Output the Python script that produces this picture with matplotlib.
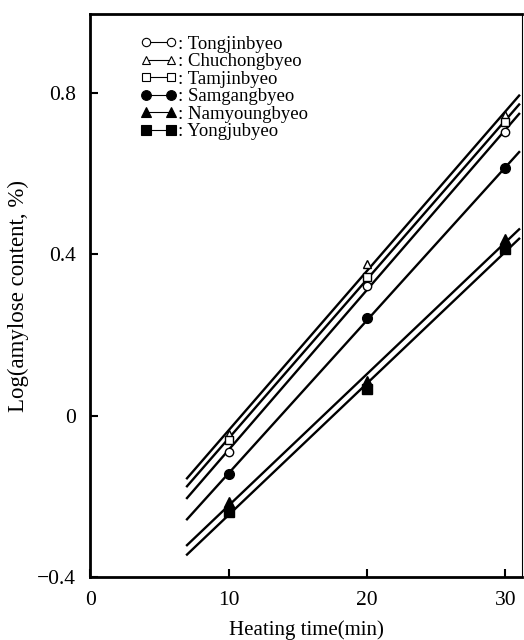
import numpy as np
import matplotlib.pyplot as plt
from matplotlib.lines import Line2D

plt.rcParams['font.family'] = ['Liberation Serif', 'DejaVu Serif']

# heating time (min)
time = [10, 20, 30]

# log(amylose content, %)
tongjin = [-0.090, 0.322, 0.703]
chuchong = [-0.045, 0.376, 0.745]
tamjin = [-0.060, 0.345, 0.728]
samgang = [-0.145, 0.241, 0.613]
namyoung = [-0.214, 0.086, 0.438]
yongju = [-0.239, 0.066, 0.413]

names = ["Tongjinbyeo", "Chuchongbyeo", "Tamjinbyeo",
         "Samgangbyeo", "Namyoungbyeo", "Yongjubyeo"]
series = [tongjin, chuchong, tamjin, samgang, namyoung, yongju]
markers = ["o", "^", "s", "o", "^", "s"]
filled = [False, False, False, True, True, True]

fit_range = [7, 31]

fig = plt.figure(figsize=(5.24, 6.4), dpi=100)
ax = fig.add_axes([0.172, 0.098, 0.824, 0.88])

handles = []
for name, vals, m, f in zip(names, series, markers, filled):
    slope, icpt = np.polyfit(time, vals, 1)
    xs = np.array(fit_range)
    ax.plot(xs, slope * xs + icpt, color="black", lw=1.7, zorder=2)
    fc = "black" if f else "white"
    ms = 7 if f else 6
    ax.plot(time, vals, linestyle="none", marker=m, ms=ms, mfc=fc,
            mec="black", mew=1.0, zorder=3)
    handles.append(Line2D([0], [0], color="black", lw=0.8, marker=m,
                          ms=ms, mfc=fc, mec="black", mew=0.8))

ax.legend(handles, [": " + n for n in names], loc="upper left",
          bbox_to_anchor=(0.1, 0.975), frameon=False, numpoints=2,
          handlelength=1.9, handletextpad=0.1, labelspacing=0.02,
          fontsize=13.5, borderaxespad=0)

ax.set_xlim(0, 31.2)
ax.set_ylim(-0.4, 0.995)
ax.set_xticks([0, 10, 20, 30])
ax.set_yticks([-0.4, 0, 0.4, 0.8])
ax.set_yticklabels(["\u22120.4", "0", "0.4", "0.8"])
ax.tick_params(direction="in", length=6, width=1.5, labelsize=15.5, pad=10)

for side in ["left", "bottom", "top"]:
    ax.spines[side].set_linewidth(2)
ax.spines["right"].set_linewidth(0.8)

ax.set_xlabel("Heating time(min)", fontsize=15, labelpad=7)
ax.set_ylabel("Log(amylose content, %)", fontsize=16.5, labelpad=6)

fig.savefig("out.png", dpi=100)
